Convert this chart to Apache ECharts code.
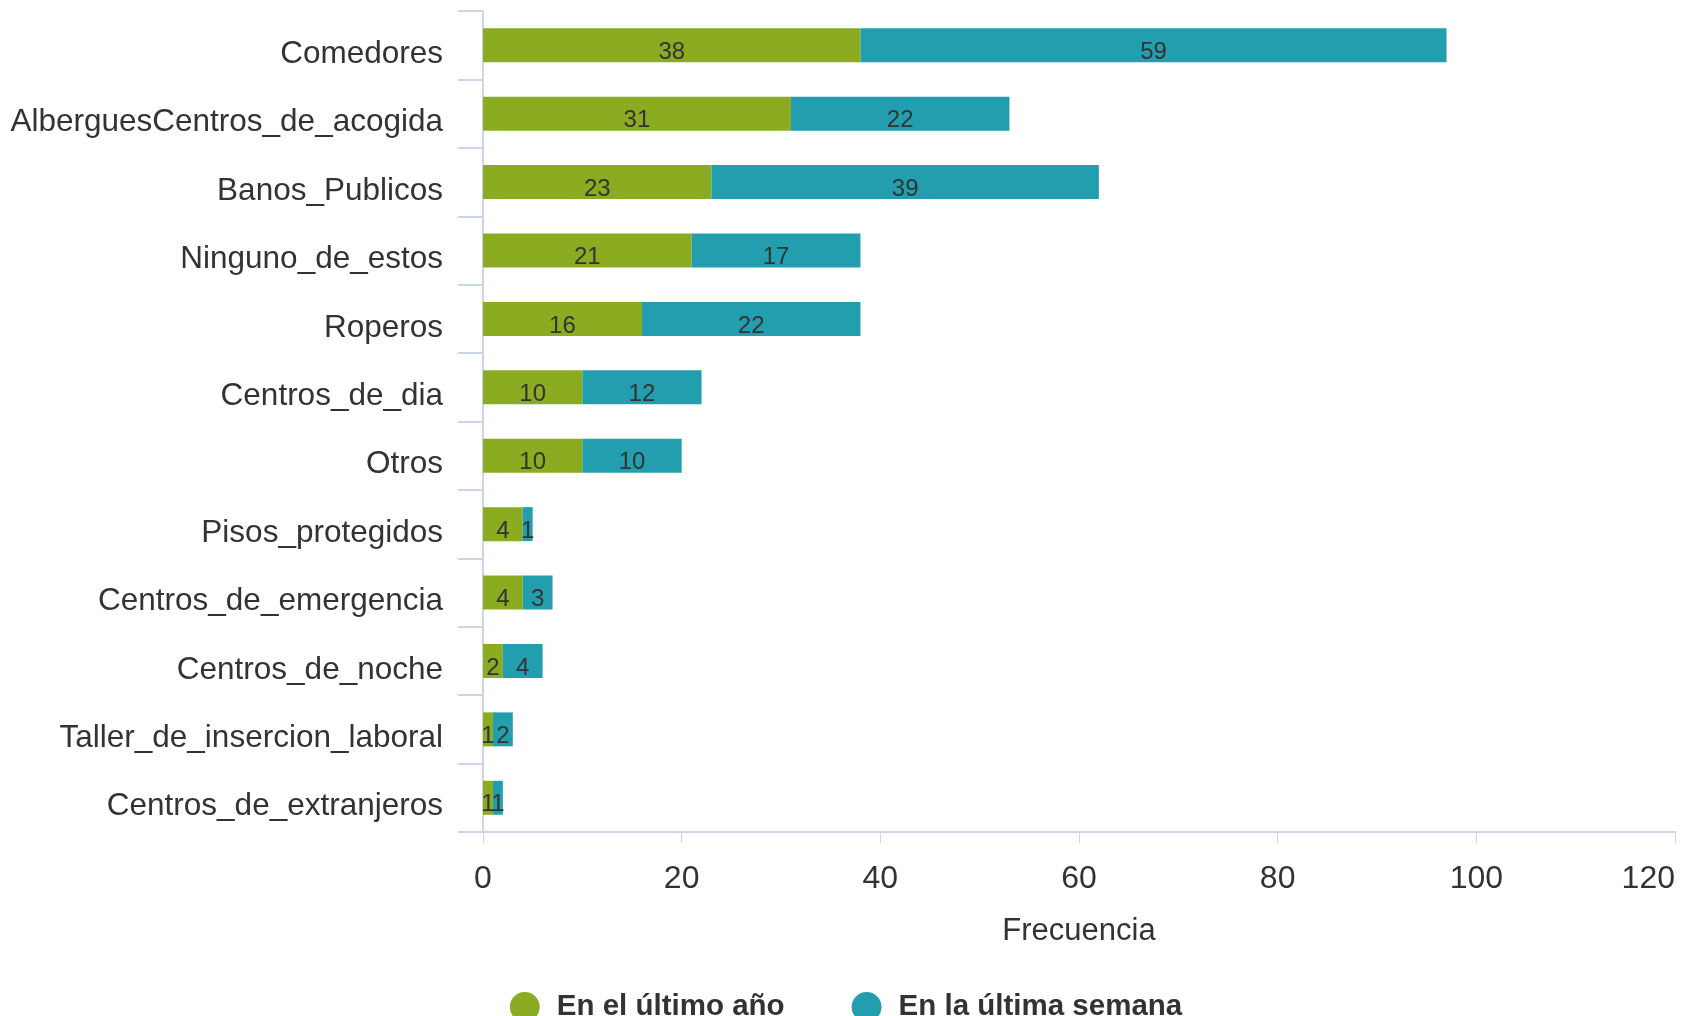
<!DOCTYPE html>
<html>
<head>
<meta charset="utf-8">
<script src="https://cdn.jsdelivr.net/npm/echarts@6/dist/echarts.min.js"></script>
<style>
  html, body { margin: 0; padding: 0; background: #fff; }
  #chart { width: 1692px; height: 1016px; }
</style>
</head>
<body>
<div id="chart"></div>
<script>
// categories, top to bottom
const categories = [
  'Comedores', 'AlberguesCentros_de_acogida', 'Banos_Publicos', 'Ninguno_de_estos',
  'Roperos', 'Centros_de_dia', 'Otros', 'Pisos_protegidos',
  'Centros_de_emergencia', 'Centros_de_noche', 'Taller_de_insercion_laboral', 'Centros_de_extranjeros'
];
const ultimoAno = [38, 31, 23, 21, 16, 10, 10, 4, 4, 2, 1, 1];
const ultimaSemana = [59, 22, 39, 17, 22, 12, 10, 1, 3, 4, 2, 1];
const xTicks = [0, 20, 40, 60, 80, 100, 120];

const font = "'Liberation Sans', Arial, sans-serif";
const axisColor = '#ccd6eb';

const chart = echarts.init(document.getElementById('chart'));

const barLabel = {
  show: true,
  position: 'inside',
  color: '#333',
  fontSize: 24,
  fontFamily: font,
  offset: [0, 7]
};

chart.setOption({
  animation: false,
  grid: { left: 483, right: 17, top: 11, bottom: 184, outerBoundsMode: 'none' },
  legend: {
    top: 987,
    left: 'center',
    icon: 'circle',
    itemWidth: 30,
    itemHeight: 30,
    itemGap: 67,
    textStyle: {
      fontSize: 29.5, fontWeight: 'bold', color: '#333', fontFamily: font,
      padding: [0, 0, 0, 12]
    }
  },
  xAxis: {
    type: 'value',
    min: xTicks[0],
    max: xTicks[xTicks.length - 1],
    interval: 20,
    name: 'Frecuencia',
    nameLocation: 'middle',
    nameGap: 84,
    nameTextStyle: { fontSize: 31, color: '#333', fontFamily: font },
    axisLine: { show: true, lineStyle: { color: axisColor, width: 2 } },
    axisTick: { show: true, length: 11, lineStyle: { color: axisColor, width: 1 } },
    axisLabel: {
      fontSize: 32, color: '#333', fontFamily: font, margin: 31,
      alignMaxLabel: 'right'
    },
    splitLine: { show: false }
  },
  yAxis: {
    type: 'category',
    data: categories,
    inverse: true,
    axisLine: { show: true, lineStyle: { color: axisColor, width: 2 } },
    axisTick: { show: true, length: 25, lineStyle: { color: axisColor, width: 2 } },
    axisLabel: {
      fontSize: 31.5, color: '#333', fontFamily: font, margin: 40,
      verticalAlign: 'top', lineHeight: 18
    }
  },
  series: [
    {
      name: 'En el último año',
      type: 'bar',
      stack: 'total',
      barWidth: 34,
      itemStyle: { color: '#8bab21' },
      label: barLabel,
      data: ultimoAno
    },
    {
      name: 'En la última semana',
      type: 'bar',
      stack: 'total',
      barWidth: 34,
      itemStyle: { color: '#229eae' },
      label: barLabel,
      data: ultimaSemana
    }
  ]
});
</script>
</body>
</html>
